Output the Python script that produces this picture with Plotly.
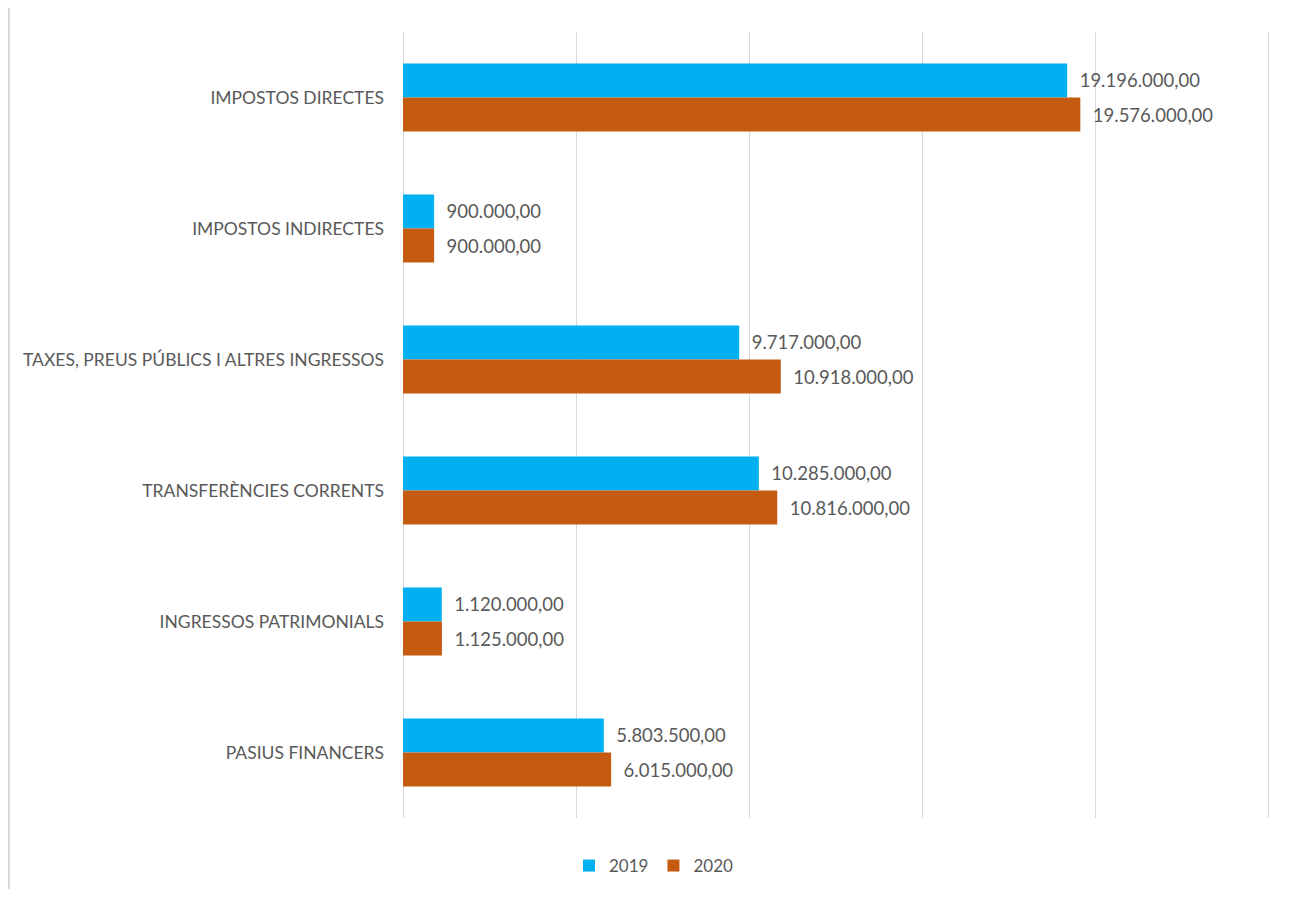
import plotly.graph_objects as go

categories = [
    "IMPOSTOS DIRECTES",
    "IMPOSTOS INDIRECTES",
    "TAXES, PREUS PÚBLICS I ALTRES INGRESSOS",
    "TRANSFERÈNCIES CORRENTS",
    "INGRESSOS PATRIMONIALS",
    "PASIUS FINANCERS",
]
values_2019 = [19196000, 900000, 9717000, 10285000, 1120000, 5803500]
values_2020 = [19576000, 900000, 10918000, 10816000, 1125000, 6015000]
grid_ticks = [0, 5000000, 10000000, 15000000, 20000000, 25000000]

FONT = "Lato, 'Open Sans', sans-serif"
GRAY = "#595959"

# page body has an 8px margin; size the figure to fit inside the 1290x897 window
W, H = 1274, 881
L, T = 395, 24
PW, PH = 869, 786
R = W - L - PW
B = H - T - PH
XMAX = 25000000 * PW / 865.0

fig = go.Figure()
fig.add_trace(go.Bar(
    name="2019", y=categories, x=values_2019, orientation="h",
    marker=dict(color="#00B0F0", line=dict(width=0)),
    texttemplate="\u00a0\u00a0%{x:,.2f}", textposition="outside",
    textfont=dict(family=FONT, size=18.5, color=GRAY), cliponaxis=False,
))
fig.add_trace(go.Bar(
    name="2020", y=categories, x=values_2020, orientation="h",
    marker=dict(color="#C55A11", line=dict(width=0)),
    texttemplate="\u00a0\u00a0%{x:,.2f}", textposition="outside",
    textfont=dict(family=FONT, size=18.5, color=GRAY), cliponaxis=False,
))

fig.update_layout(
    width=W, height=H,
    separators=",.",
    barmode="group", bargap=0.48, bargroupgap=0,
    plot_bgcolor="white", paper_bgcolor="white",
    margin=dict(l=L, r=R, t=T, b=B, pad=0, autoexpand=False),
    font=dict(family=FONT, size=17.5, color=GRAY),
    xaxis=dict(range=[0, XMAX], tickvals=grid_ticks,
               showgrid=True, gridcolor="#D9D9D9", gridwidth=1, showticklabels=False,
               zeroline=True, zerolinecolor="#D9D9D9", zerolinewidth=1,
               showline=False, fixedrange=True),
    yaxis=dict(autorange="reversed", showgrid=False, showline=False,
               ticks="", ticklabelstandoff=18,
               tickfont=dict(family=FONT, size=17.5, color=GRAY)),
    legend=dict(orientation="h", x=(654 - 8 - L) / PW, xanchor="center",
                yref="container", y=(H - (866 - 8)) / H, yanchor="middle",
                font=dict(family=FONT, size=17, color=GRAY),
                traceorder="normal", itemwidth=30),
    showlegend=True,
    shapes=[dict(type="line", xref="paper", yref="paper",
                 x0=-(L - 1) / PW, x1=-(L - 1) / PW,
                 y0=-(B + 20) / PH, y1=(PH + T) / PH,
                 line=dict(color="#D9D9D9", width=2))],
)

fig.write_html("out.html")
